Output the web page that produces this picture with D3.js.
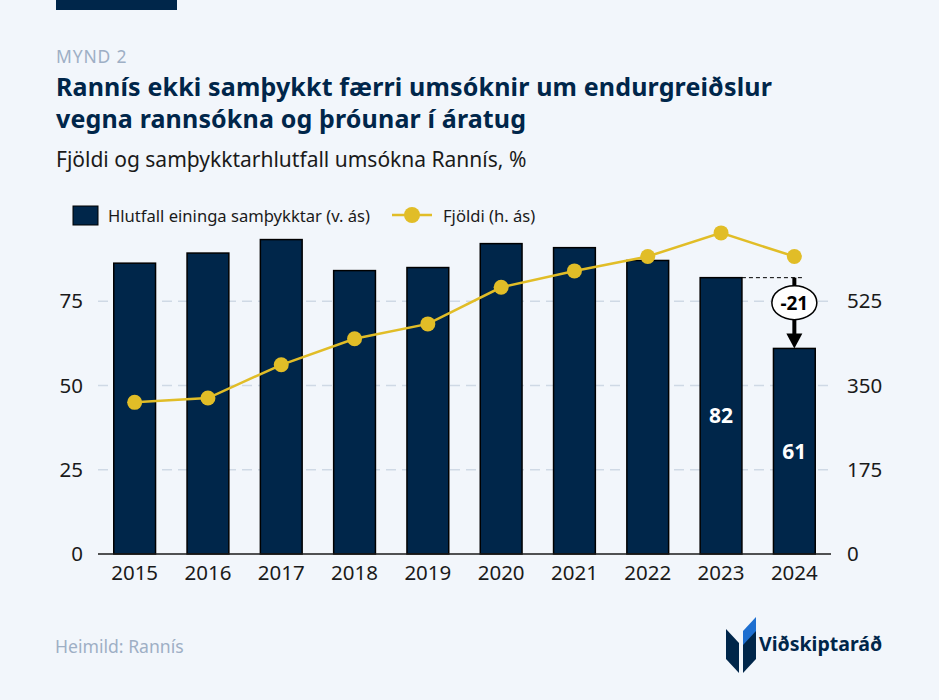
<!DOCTYPE html>
<html>
<head>
<meta charset="utf-8">
<script src="https://cdn.jsdelivr.net/npm/d3@7"></script>
<style>
  html, body { margin: 0; padding: 0; background: #f2f6fb; }
  svg { display: block; font-family: "Noto Sans", sans-serif; }
</style>
</head>
<body>
<svg id="chart"></svg>
<script>
const years = ["2015", "2016", "2017", "2018", "2019", "2020", "2021", "2022", "2023", "2024"];
const shareApproved = [86.3, 89.3, 93.3, 84.1, 85.0, 92.1, 90.9, 87.1, 82, 61];
const applications = [315, 324, 393, 447, 478, 554, 588, 618, 667, 618];
const leftTicks = [0, 25, 50, 75];
const rightTicks = [0, 175, 350, 525];

const width = 939;
const height = 700;
const margin = { top: 217, right: 108, bottom: 146, left: 98 };
const innerW = width - margin.left - margin.right;
const innerH = height - margin.top - margin.bottom;

const navy = "#00264a";
const gold = "#e1bd27";
const tickSize = 20.5;

const svg = d3.select("#chart").attr("width", width).attr("height", height);

svg.append("rect").attr("width", width).attr("height", height).attr("fill", "#f2f6fb");
svg.append("rect").attr("x", 56).attr("y", 0).attr("width", 121).attr("height", 10).attr("fill", navy);

// header
svg.append("text").attr("x", 56).attr("y", 63).attr("font-size", 17.5).attr("letter-spacing", 0.8)
  .attr("fill", "#9eafc5").text("MYND 2");
svg.append("text").attr("x", 56).attr("y", 96).attr("font-size", 25).attr("font-weight", 700)
  .attr("letter-spacing", 0.15).attr("fill", navy)
  .text("Rannís ekki samþykkt færri umsóknir um endurgreiðslur");
svg.append("text").attr("x", 56).attr("y", 128).attr("font-size", 25).attr("font-weight", 700)
  .attr("letter-spacing", 0.15).attr("fill", navy)
  .text("vegna rannsókna og þróunar í áratug");
svg.append("text").attr("x", 56).attr("y", 167).attr("font-size", 21).attr("fill", "#1a1a1a")
  .text("Fjöldi og samþykktarhlutfall umsókna Rannís, %");

// legend
const legend = svg.append("g").attr("font-size", 16.6).attr("fill", "#1a1a1a");
legend.append("rect").attr("x", 73).attr("y", 206).attr("width", 25).attr("height", 19)
  .attr("fill", navy).attr("stroke", "#000").attr("stroke-width", 1);
legend.append("text").attr("x", 108).attr("y", 222).text("Hlutfall eininga samþykktar (v. ás)");
legend.append("line").attr("x1", 392).attr("x2", 432).attr("y1", 215).attr("y2", 215)
  .attr("stroke", gold).attr("stroke-width", 2.5);
legend.append("circle").attr("cx", 412).attr("cy", 215).attr("r", 8).attr("fill", gold);
legend.append("text").attr("x", 443).attr("y", 222).text("Fjöldi (h. ás)");

const g = svg.append("g").attr("transform", `translate(${margin.left}, ${margin.top})`);

const x = d3.scaleBand().domain(years).range([0, innerW]).paddingInner(0.43).paddingOuter(0.215);
const yL = d3.scaleLinear().domain([0, 100]).range([innerH, 0]);
const yR = d3.scaleLinear().domain([0, 700]).range([innerH, 0]);

// gridlines
g.selectAll(".grid").data(leftTicks.filter((d) => d > 0)).join("line")
  .attr("class", "grid")
  .attr("x1", 0).attr("x2", innerW)
  .attr("y1", (d) => yL(d)).attr("y2", (d) => yL(d))
  .attr("stroke", "#cfd9e5").attr("stroke-width", 1.5).attr("stroke-dasharray", "10,6");

function styleTicks(sel) {
  sel.select(".domain").remove();
  sel.selectAll("text").attr("font-size", tickSize).attr("fill", "#1a1a1a").attr("font-family", "Noto Sans");
}

// left axis
g.append("g").call(d3.axisLeft(yL).tickValues(leftTicks).tickSize(0).tickPadding(15)).call(styleTicks);

// right axis
g.append("g").attr("transform", `translate(${innerW}, 0)`)
  .call(d3.axisRight(yR).tickValues(rightTicks).tickSize(0).tickPadding(16)).call(styleTicks);

// bars
g.selectAll(".bar").data(years).join("rect")
  .attr("class", "bar")
  .attr("x", (d) => x(d))
  .attr("y", (d, i) => yL(shareApproved[i]))
  .attr("width", x.bandwidth())
  .attr("height", (d, i) => innerH - yL(shareApproved[i]))
  .attr("fill", navy).attr("stroke", "#000").attr("stroke-width", 1.5);

// baseline
g.append("line").attr("x1", 0).attr("x2", innerW).attr("y1", innerH).attr("y2", innerH)
  .attr("stroke", "#1a1a1a").attr("stroke-width", 1.5);

// x axis
g.append("g").attr("transform", `translate(0, ${innerH})`)
  .call(d3.axisBottom(x).tickSize(0).tickPadding(11)).call(styleTicks);

// value labels on last two bars
[8, 9].forEach((i) => {
  g.append("text")
    .attr("x", x(years[i]) + x.bandwidth() / 2)
    .attr("y", (yL(shareApproved[i]) + innerH) / 2)
    .attr("dy", "0.36em")
    .attr("text-anchor", "middle")
    .attr("font-size", 21).attr("font-weight", 700).attr("fill", "#fff")
    .text(shareApproved[i]);
});

// change annotation
const prevTop = yL(shareApproved[8]);
const lastTop = yL(shareApproved[9]);
const cx = x(years[9]) + x.bandwidth() / 2;
g.append("line")
  .attr("x1", x(years[8]) + x.bandwidth()).attr("x2", cx + 8)
  .attr("y1", prevTop).attr("y2", prevTop)
  .attr("stroke", "#000").attr("stroke-width", 1).attr("stroke-dasharray", "4,3");
g.append("line").attr("x1", cx).attr("x2", cx).attr("y1", prevTop).attr("y2", lastTop - 12)
  .attr("stroke", "#000").attr("stroke-width", 4);
g.append("path")
  .attr("d", `M${cx - 8},${lastTop - 15} L${cx + 8},${lastTop - 15} L${cx},${lastTop} Z`)
  .attr("fill", "#000");
const midY = prevTop + 25;
g.append("ellipse").attr("cx", cx).attr("cy", midY).attr("rx", 22.5).attr("ry", 17)
  .attr("fill", "#fff").attr("stroke", "#000").attr("stroke-width", 1.5);
g.append("text").attr("x", cx).attr("y", midY).attr("dy", "0.36em").attr("text-anchor", "middle")
  .attr("font-size", 19).attr("font-weight", 700).attr("fill", "#000")
  .text(String(Math.round(shareApproved[9] - shareApproved[8])));

// line
const line = d3.line()
  .x((d, i) => x(years[i]) + x.bandwidth() / 2)
  .y((d) => yR(d));
g.append("path").datum(applications).attr("d", line)
  .attr("fill", "none").attr("stroke", gold).attr("stroke-width", 2.5);
g.selectAll(".dot").data(applications).join("circle")
  .attr("class", "dot")
  .attr("cx", (d, i) => x(years[i]) + x.bandwidth() / 2)
  .attr("cy", (d) => yR(d))
  .attr("r", 7.5).attr("fill", gold);

// footer
svg.append("text").attr("x", 55).attr("y", 653).attr("font-size", 17.6).attr("fill", "#9eafc5").text("Heimild: Rannís");

// logo
const logo = svg.append("g").attr("transform", "translate(726, 617)");
logo.append("path").attr("d", "M0,12 L13,26 L13,56 L0,42 Z").attr("fill", navy);
logo.append("path").attr("d", "M30,12 L17,26 L17,56 L30,42 Z").attr("fill", navy);
logo.append("path").attr("d", "M30,0 L30,14 L17,28 L17,14 Z").attr("fill", "#1e6fd0");
svg.append("text").attr("x", 759).attr("y", 651).attr("font-size", 19.5).attr("font-weight", 700)
  .attr("fill", navy).text("Viðskiptaráð");
</script>
</body>
</html>
